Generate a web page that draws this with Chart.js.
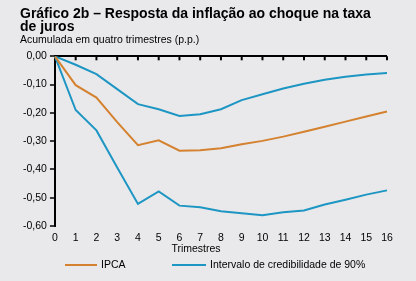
<!DOCTYPE html>
<html>
<head>
<meta charset="utf-8">
<script src="https://cdn.jsdelivr.net/npm/chart.js@4"></script>
<style>
  html, body { margin: 0; padding: 0; background: #e9e9eb; }
  #box { width: 416px; height: 281px; }
</style>
</head>
<body>
<div id="box"><canvas id="grafico"></canvas></div>
<script>
var trimestres = [0, 1, 2, 3, 4, 5, 6, 7, 8, 9, 10, 11, 12, 13, 14, 15, 16];

var ipca = [0, -0.102, -0.146, -0.233, -0.314, -0.297, -0.334, -0.332, -0.325, -0.311, -0.299, -0.284, -0.267, -0.249, -0.231, -0.213, -0.195];
var limite_sup = [0, -0.030, -0.063, -0.116, -0.169, -0.187, -0.211, -0.205, -0.187, -0.155, -0.134, -0.114, -0.097, -0.083, -0.072, -0.064, -0.059];
var limite_inf = [0, -0.190, -0.262, -0.393, -0.522, -0.478, -0.528, -0.534, -0.548, -0.555, -0.562, -0.551, -0.545, -0.524, -0.507, -0.489, -0.474];

var laranja = "#d4822f";
var azul = "#1e96c3";
var fonte = "'Liberation Sans', Arial, sans-serif";

// eixo do zero com marcas para baixo, titulo do eixo x e legenda
var extras = {
  id: 'extras',
  afterDatasetsDraw: function (chart) {
    var c = chart.ctx, x = chart.scales.x, y = chart.scales.y;
    var y0 = y.getPixelForValue(0);
    c.save();
    c.strokeStyle = "#000";
    c.lineWidth = 2;
    trimestres.forEach(function (t, i) {
      if (i === 0) return;
      var px = x.getPixelForValue(i);
      c.beginPath();
      c.moveTo(px, y0);
      c.lineTo(px, y0 + 4);
      c.stroke();
    });
    c.restore();
  },
  afterDraw: function (chart) {
    var c = chart.ctx;
    c.save();
    c.font = "10.5px " + fonte;
    c.fillStyle = "#000";
    c.textBaseline = "middle";
    c.textAlign = "center";
    c.fillText("Trimestres", 196, 249.5);
    c.textAlign = "left";
    var itens = [
      { txt: chart.data.datasets[0].label, cor: chart.data.datasets[0].borderColor, x: 65, w: 32 },
      { txt: chart.data.datasets[1].label, cor: chart.data.datasets[1].borderColor, x: 172, w: 34 }
    ];
    itens.forEach(function (it) {
      c.strokeStyle = it.cor;
      c.lineWidth = 2;
      c.beginPath();
      c.moveTo(it.x, 265);
      c.lineTo(it.x + it.w, 265);
      c.stroke();
      c.fillText(it.txt, it.x + it.w + 4, 265);
    });
    c.restore();
  }
};

var ctx = document.getElementById("grafico");
var grafico = new Chart(ctx, {
  type: 'line',
  data: {
    labels: trimestres,
    datasets: [
      {
        data: ipca,
        label: "IPCA",
        borderColor: laranja,
        borderWidth: 2,
        pointRadius: 0,
        tension: 0,
        fill: false
      },
      {
        data: limite_sup,
        label: "Intervalo de credibilidade de 90%",
        borderColor: azul,
        borderWidth: 2,
        pointRadius: 0,
        tension: 0,
        fill: false
      },
      {
        data: limite_inf,
        label: "Intervalo de credibilidade de 90% (inferior)",
        borderColor: azul,
        borderWidth: 2,
        pointRadius: 0,
        tension: 0,
        fill: false
      }
    ]
  },
  options: {
    responsive: true,
    maintainAspectRatio: false,
    animation: false,
    events: [],
    layout: { padding: { left: 20, right: 29, top: 0, bottom: 30.4 } },
    plugins: {
      legend: { display: false },
      tooltip: { enabled: false },
      title: {
        display: true,
        text: ["Gráfico 2b – Resposta da inflação ao choque na taxa", "de juros"],
        align: 'start',
        color: "#000",
        font: { family: fonte, size: 14, weight: 'bold', lineHeight: 0.9 },
        padding: { top: 8, bottom: 0 }
      },
      subtitle: {
        display: true,
        text: "Acumulada em quatro trimestres (p.p.)",
        align: 'start',
        color: "#000",
        font: { family: fonte, size: 10.5, lineHeight: 1.2 },
        padding: { top: 1, bottom: 9.5 }
      }
    },
    scales: {
      x: {
        grid: { display: false, drawTicks: false, tickLength: 0 },
        border: { display: false },
        ticks: {
          color: "#000",
          autoSkip: false,
          maxRotation: 0,
          padding: 6,
          font: { family: fonte, size: 10.5 }
        }
      },
      y: {
        min: -0.6,
        max: 0,
        border: { display: true, color: "#000", width: 2 },
        grid: {
          color: function (c) {
            return c.tick && Math.abs(c.tick.value) < 1e-9 ? "#000" : "transparent";
          },
          lineWidth: 2,
          tickColor: "#000",
          tickWidth: 1.5,
          tickLength: 5
        },
        ticks: {
          stepSize: 0.1,
          color: "#000",
          padding: 3,
          font: { family: fonte, size: 10.5 },
          callback: function (v) {
            if (Math.abs(v) < 1e-9) v = 0;
            return v.toFixed(2).replace('.', ',');
          }
        }
      }
    }
  },
  plugins: [extras]
});
</script>
</body>
</html>
